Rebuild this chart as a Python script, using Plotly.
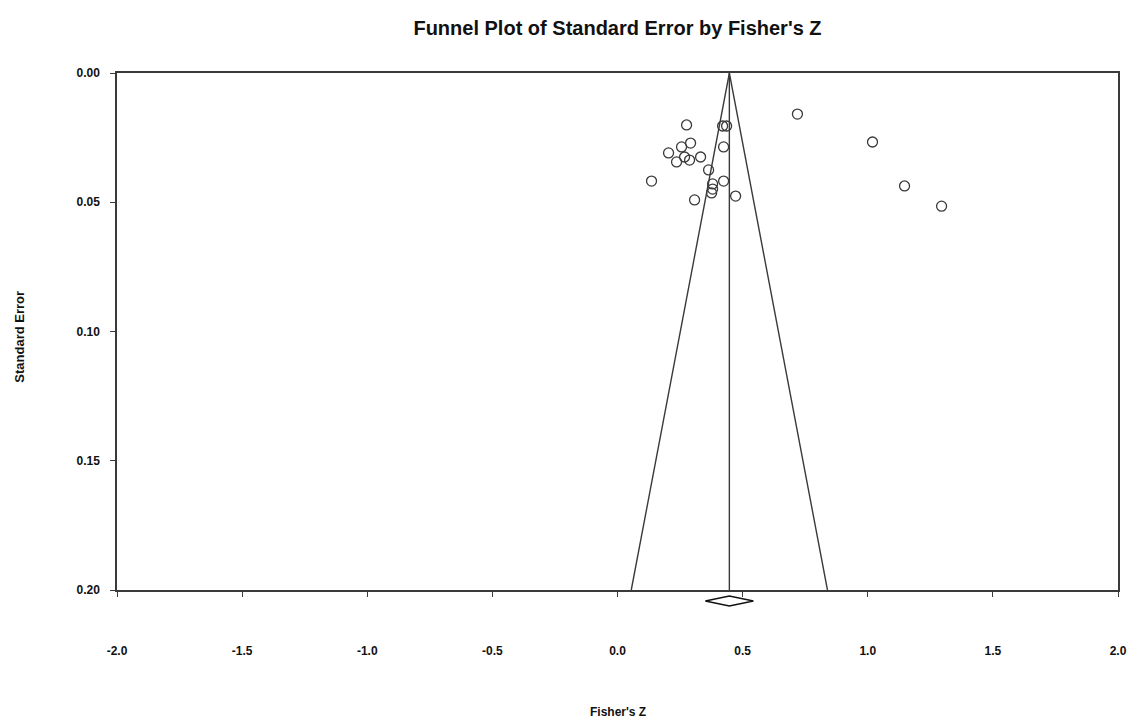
import plotly.graph_objects as go

# Study estimates (Fisher's Z) and standard errors
fisher_z = [0.276, 0.420, 0.436, 0.256, 0.292, 0.424, 0.204, 0.268, 0.236, 0.288,
            0.332, 0.364, 0.136, 0.380, 0.424, 0.380, 0.376, 0.308, 0.472,
            0.719, 1.019, 1.147, 1.295]
std_err = [0.0201, 0.0205, 0.0205, 0.0286, 0.0271, 0.0286, 0.0309, 0.0325, 0.0344, 0.0337,
           0.0325, 0.0375, 0.0418, 0.0429, 0.0418, 0.0449, 0.0464, 0.0491, 0.0476,
           0.0159, 0.0267, 0.0437, 0.0515]

# Summary effect
summary_z = 0.447
summary_lo = 0.351
summary_hi = 0.543
z_crit = 1.96
se_max = 0.20

x_ticks = [-2.0, -1.5, -1.0, -0.5, 0.0, 0.5, 1.0, 1.5, 2.0]
y_ticks = [0.00, 0.05, 0.10, 0.15, 0.20]

line_col = "#3a3a3a"
font_fam = "Liberation Sans, Arial, sans-serif"

fig = go.Figure()

# Funnel lines
fig.add_trace(go.Scatter(
    x=[summary_z - z_crit * se_max, summary_z, summary_z + z_crit * se_max],
    y=[se_max, 0, se_max],
    mode="lines", line=dict(color=line_col, width=1.4), hoverinfo="skip", showlegend=False))
fig.add_trace(go.Scatter(
    x=[summary_z, summary_z], y=[0, se_max],
    mode="lines", line=dict(color=line_col, width=1.4), hoverinfo="skip", showlegend=False))

# Studies
fig.add_trace(go.Scatter(
    x=fisher_z, y=std_err, mode="markers",
    marker=dict(symbol="circle-open", size=10, color=line_col, line=dict(width=1.3)),
    showlegend=False))

# Summary diamond below the axis
fig.add_shape(type="path", xref="x", yref="paper",
              path=(f"M {summary_lo},-0.0213 L {summary_z},-0.0116 "
                    f"L {summary_hi},-0.0213 L {summary_z},-0.031 Z"),
              line=dict(color="#111111", width=1.4), fillcolor="white")

fig.update_layout(
    width=1131, height=718,
    margin=dict(l=117, r=13, t=73, b=128, autoexpand=False),
    paper_bgcolor="white", plot_bgcolor="white",
    font=dict(family=font_fam, color="#111111"),
    title=dict(text="<b>Funnel Plot of Standard Error by Fisher's Z</b>",
               x=0.5, xanchor="center", xref="paper", y=1 - 28 / 718, yanchor="middle",
               font=dict(family=font_fam, size=20, color="#111111")),
    xaxis=dict(range=[-2.0, 2.0], tickvals=x_ticks,
               ticktext=[f"<b>{v:.1f}</b>" for v in x_ticks],
               showgrid=False, zeroline=False, showline=True, mirror=True, automargin=False,
               linecolor=line_col, linewidth=1.5, ticks="outside", ticklen=5,
               tickcolor=line_col, ticklabelstandoff=44,
               tickfont=dict(size=12, family=font_fam, color="#111111")),
    yaxis=dict(range=[0.20, 0.0], tickvals=y_ticks,
               ticktext=[f"<b>{v:.2f}</b>" for v in y_ticks],
               showgrid=False, zeroline=False, showline=True, mirror=True, automargin=False,
               linecolor=line_col, linewidth=1.5, ticks="outside", ticklen=5,
               tickcolor=line_col, ticklabelstandoff=8,
               tickfont=dict(size=12, family=font_fam, color="#111111")),
    annotations=[
        dict(text="<b>Fisher's Z</b>", xref="paper", yref="paper", x=0.5, y=-0.236,
             showarrow=False, xanchor="center", yanchor="middle",
             font=dict(size=12, family=font_fam, color="#111111")),
        dict(text="<b>Standard Error</b>", xref="paper", yref="paper", x=-0.0969, y=0.49,
             textangle=-90, showarrow=False, xanchor="center", yanchor="middle",
             font=dict(size=13, family=font_fam, color="#111111")),
    ],
)

fig.write_html("out.html", config={"displayModeBar": False},
               post_script="document.body.style.margin='0';document.body.style.overflow='hidden';")
